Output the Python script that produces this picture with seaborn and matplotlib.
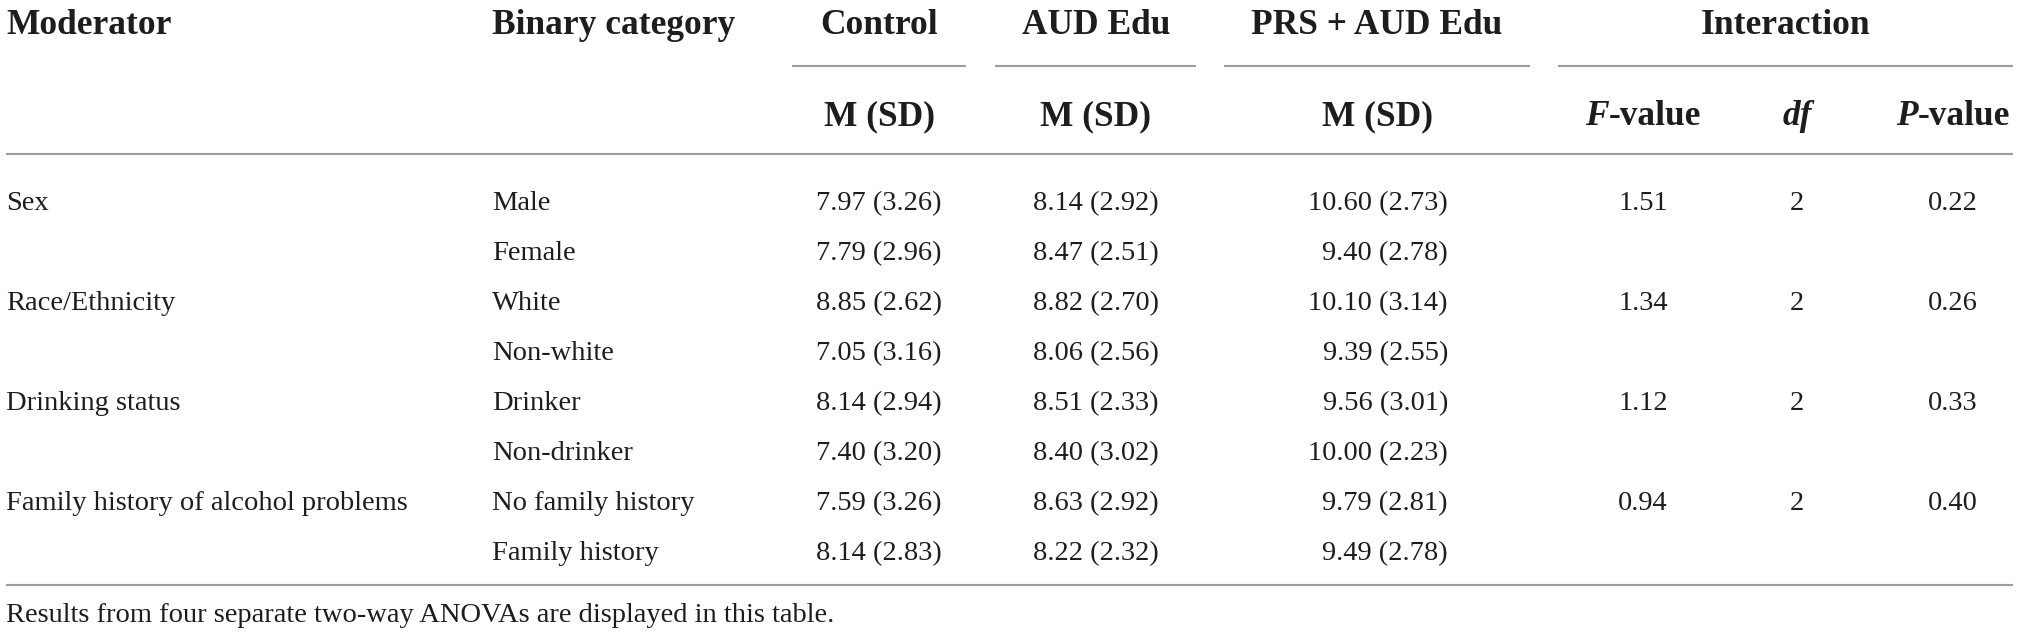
import matplotlib
matplotlib.use("Agg")
import matplotlib.pyplot as plt
import seaborn as sns

# table values
moderators = ["Sex", "Race/Ethnicity", "Drinking status", "Family history of alcohol problems"]
categories = ["Male", "Female", "White", "Non-white", "Drinker", "Non-drinker",
              "No family history", "Family history"]
control_m = [7.97, 7.79, 8.85, 7.05, 8.14, 7.40, 7.59, 8.14]
control_sd = [3.26, 2.96, 2.62, 3.16, 2.94, 3.20, 3.26, 2.83]
aud_m = [8.14, 8.47, 8.82, 8.06, 8.51, 8.40, 8.63, 8.22]
aud_sd = [2.92, 2.51, 2.70, 2.56, 2.33, 3.02, 2.92, 2.32]
prs_m = [10.60, 9.40, 10.10, 9.39, 9.56, 10.00, 9.79, 9.49]
prs_sd = [2.73, 2.78, 3.14, 2.55, 3.01, 2.23, 2.81, 2.78]
f_values = [1.51, 1.34, 1.12, 0.94]
dfs = [2, 2, 2, 2]
p_values = [0.22, 0.26, 0.33, 0.40]
groups = ["Control", "AUD Edu", "PRS + AUD Edu"]
footnote = "Results from four separate two-way ANOVAs are displayed in this table."

sns.set_theme(style="white")
plt.rcParams['font.family'] = ['Liberation Serif', 'DejaVu Serif']

W, H = 2019, 638
fig = plt.figure(figsize=(W / 100, H / 100), dpi=100)
ax = fig.add_axes([0, 0, 1, 1])
ax.set_xlim(0, W)
ax.set_ylim(H, 0)
ax.axis('off')

ink = '#1d1d1b'
rule = '#9d9d9d'
hsize = 25.5
bsize = 20.5

# column layout (pixels)
x_mod, x_cat = 6, 492
x_groups = [879, 1096, 1377]
group_lines = [(792, 966), (995, 1196), (1224, 1530)]
x_inter = 1786
inter_line = (1558, 2013)
x_f, x_df, x_p = 1643, 1797, 1953
x_prs_right = 1448

y_h1, y_h2 = 34, 125
y_first, step = 210, 50

renderer = fig.canvas.get_renderer()


def mixed(parts, xc, y):
    # parts: list of (text, style); centre the joined run at xc
    items = []
    for s, st in parts:
        t = ax.text(0, y, s, fontsize=hsize, fontweight='bold', style=st,
                    color=ink, ha='left', va='baseline')
        items.append(t)
    widths = [t.get_window_extent(renderer).width for t in items]
    x = xc - sum(widths) / 2
    for t, w in zip(items, widths):
        t.set_x(x)
        x += w


# header row 1
ax.text(x_mod, y_h1, "Moderator", fontsize=hsize, fontweight='bold', color=ink, va='baseline')
ax.text(x_cat, y_h1, "Binary category", fontsize=hsize, fontweight='bold', color=ink, va='baseline')
for g, xc in zip(groups, x_groups):
    ax.text(xc, y_h1, g, fontsize=hsize, fontweight='bold', color=ink, ha='center', va='baseline')
ax.text(x_inter, y_h1, "Interaction", fontsize=hsize, fontweight='bold', color=ink, ha='center', va='baseline')

for a, b in group_lines + [inter_line]:
    ax.plot([a, b], [66, 66], color=rule, lw=1.5, solid_capstyle='butt')

# header row 2
for xc in x_groups:
    ax.text(xc, y_h2, "M (SD)", fontsize=hsize, fontweight='bold', color=ink, ha='center', va='baseline')
mixed([("F", 'italic'), ("-value", 'normal')], x_f, y_h2)
mixed([("df", 'italic')], x_df, y_h2)
mixed([("P", 'italic'), ("-value", 'normal')], x_p, y_h2)

ax.plot([6, 2013], [154, 154], color=rule, lw=1.5, solid_capstyle='butt')

# body
for i, cat in enumerate(categories):
    y = y_first + i * step
    if i % 2 == 0:
        k = i // 2
        ax.text(x_mod, y, moderators[k], fontsize=bsize, color=ink, va='baseline')
        ax.text(x_f, y, f"{f_values[k]:.2f}", fontsize=bsize, color=ink, ha='center', va='baseline')
        ax.text(x_df, y, f"{dfs[k]}", fontsize=bsize, color=ink, ha='center', va='baseline')
        ax.text(x_p, y, f"{p_values[k]:.2f}", fontsize=bsize, color=ink, ha='center', va='baseline')
    ax.text(x_cat, y, cat, fontsize=bsize, color=ink, va='baseline')
    ax.text(x_groups[0], y, f"{control_m[i]:.2f} ({control_sd[i]:.2f})", fontsize=bsize,
            color=ink, ha='center', va='baseline')
    ax.text(x_groups[1], y, f"{aud_m[i]:.2f} ({aud_sd[i]:.2f})", fontsize=bsize,
            color=ink, ha='center', va='baseline')
    ax.text(x_prs_right, y, f"{prs_m[i]:.2f} ({prs_sd[i]:.2f})", fontsize=bsize,
            color=ink, ha='right', va='baseline')

ax.plot([6, 2013], [585, 585], color=rule, lw=1.5, solid_capstyle='butt')
ax.text(x_mod, 622, footnote, fontsize=bsize, color=ink, va='baseline')

fig.savefig("out.png", dpi=100, facecolor='white')
